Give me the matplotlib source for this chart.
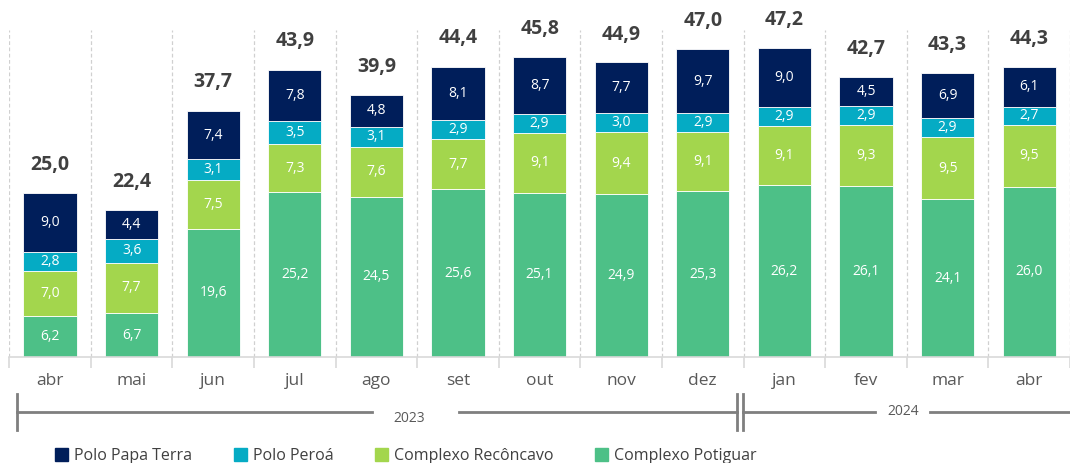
import matplotlib
matplotlib.use("Agg")
import matplotlib.pyplot as plt
import matplotlib.transforms as mtransforms
from matplotlib.patches import Patch
import numpy as np

plt.rcParams['font.family'] = ['Open Sans', 'DejaVu Sans']

months = ["abr", "mai", "jun", "jul", "ago", "set", "out", "nov", "dez", "jan", "fev", "mar", "abr"]
potiguar = [6.2, 6.7, 19.6, 25.2, 24.5, 25.6, 25.1, 24.9, 25.3, 26.2, 26.1, 24.1, 26.0]
reconcavo = [7.0, 7.7, 7.5, 7.3, 7.6, 7.7, 9.1, 9.4, 9.1, 9.1, 9.3, 9.5, 9.5]
peroa = [2.8, 3.6, 3.1, 3.5, 3.1, 2.9, 2.9, 3.0, 2.9, 2.9, 2.9, 2.9, 2.7]
papa_terra = [9.0, 4.4, 7.4, 7.8, 4.8, 8.1, 8.7, 7.7, 9.7, 9.0, 4.5, 6.9, 6.1]
totals = [25.0, 22.4, 37.7, 43.9, 39.9, 44.4, 45.8, 44.9, 47.0, 47.2, 42.7, 43.3, 44.3]
series_names = ["Polo Papa Terra", "Polo Peroá", "Complexo Recôncavo", "Complexo Potiguar"]
colors = {"Complexo Potiguar": "#4DC087", "Complexo Recôncavo": "#A3D64D",
          "Polo Peroá": "#05ABC4", "Polo Papa Terra": "#001E5A"}
years = ["2023", "2024"]

def fmt(v):
    return f"{v:.1f}".replace(".", ",")

fig = plt.figure(figsize=(10.7, 4.63), dpi=100)
ax = fig.add_axes([0.0086, 0.229, 0.9914, 0.707])
x = np.arange(len(months))
w = 0.65

stack = [("Complexo Potiguar", potiguar), ("Complexo Recôncavo", reconcavo),
         ("Polo Peroá", peroa), ("Polo Papa Terra", papa_terra)]
bottom = np.zeros(len(months))
for name, vals in stack:
    vals = np.array(vals)
    ax.bar(x, vals, w, bottom=bottom, color=colors[name], edgecolor="white", linewidth=0.6)
    for xi, b, v in zip(x, bottom, vals):
        ax.text(xi, b + v / 2, fmt(v), ha="center", va="center", color="white", fontsize=10)
    bottom = bottom + vals

for xi, t in zip(x, totals):
    ax.text(xi, t + 2.8, fmt(t), ha="center", va="bottom", color="#404040",
            fontsize=14, fontweight="bold")

ax.set_xlim(-0.5, len(months) - 0.5)
ax.set_ylim(0, 50)
for s in ["top", "right", "left"]:
    ax.spines[s].set_visible(False)
ax.spines["bottom"].set_color("#D9D9D9")
ax.spines["bottom"].set_linewidth(1.2)
ax.set_yticks([])
ax.set_xticks(np.arange(-0.5, len(months), 1.0))
ax.set_xticklabels([])
ax.tick_params(axis="x", length=8, color="#D9D9D9", width=1.2)
for b in np.arange(-0.5, len(months), 1.0):
    ax.axvline(b, color="#D0D0D0", linestyle=(0, (3, 2)), linewidth=0.9, zorder=0)

trans = mtransforms.blended_transform_factory(ax.transData, ax.transAxes)
for xi, m in zip(x, months):
    ax.text(xi, -0.072, m, transform=trans, ha="center", va="center",
            fontsize=12.5, color="#595959")

# year brackets
yb = -0.168
hb = 0.054
lc = "#7F7F7F"
ax.plot([-0.41, -0.41], [yb - hb, yb + hb], transform=trans, color=lc, lw=2, clip_on=False)
ax.plot([-0.41, 3.95], [yb, yb], transform=trans, color=lc, lw=2, clip_on=False)
ax.text(4.4, yb - 0.02, years[0], transform=trans, ha="center", va="center", fontsize=10, color="#595959")
ax.plot([5.01, 8.42], [yb, yb], transform=trans, color=lc, lw=2, clip_on=False)
ax.plot([8.42, 8.42], [yb - hb, yb + hb], transform=trans, color=lc, lw=2, clip_on=False)
ax.plot([8.49, 8.49], [yb - hb, yb + hb], transform=trans, color=lc, lw=2, clip_on=False)
ax.plot([8.49, 10.11], [yb, yb], transform=trans, color=lc, lw=2, clip_on=False)
ax.text(10.46, yb, years[1], transform=trans, ha="center", va="center", fontsize=10, color="#595959")
ax.plot([10.79, 12.5], [yb, yb], transform=trans, color=lc, lw=2, clip_on=False)

handles = [Patch(facecolor=colors[n], edgecolor=colors[n]) for n in series_names]
fig.legend(handles, series_names, loc="center left", bbox_to_anchor=(0.038, 0.015), ncol=4,
           frameon=False, fontsize=11.5, handlelength=0.8, handleheight=0.8,
           handletextpad=0.4, columnspacing=2.6, labelcolor="#404040")

fig.savefig("out.png", dpi=100)
